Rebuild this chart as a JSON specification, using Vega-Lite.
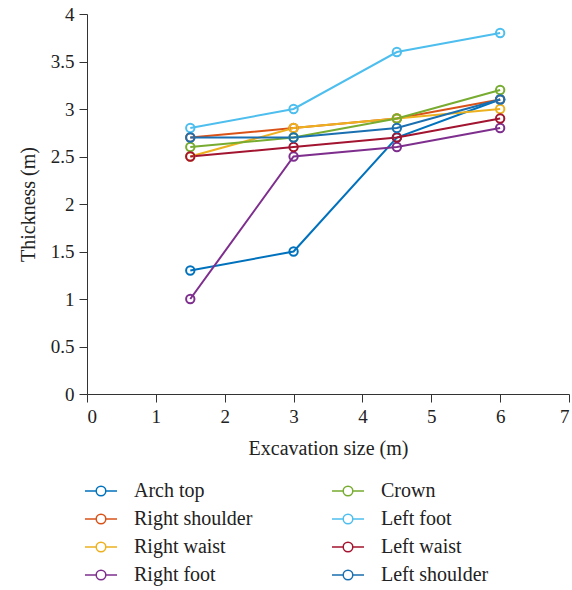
{
  "$schema": "https://vega.github.io/schema/vega-lite/v6.json",
  "autosize": {"type": "none"},
  "width": 482,
  "height": 380,
  "padding": {"left": 87, "top": 14, "right": 3, "bottom": 196},
  "background": "white",
  "config": {
    "view": {"stroke": null},
    "font": "Liberation Serif",
    "style": {
      "guide-label": {"font": "Liberation Serif", "fontSize": 19, "fill": "#222222"},
      "guide-title": {"font": "Liberation Serif", "fontSize": 20, "fontWeight": "normal", "fill": "#222222"}
    },
    "axisX": {"labelFont": "Liberation Serif", "labelFontSize": 19},
    "axisY": {"labelFont": "Liberation Serif", "labelFontSize": 19},
    "axis": {
      "grid": false,
      "domainColor": "#333333",
      "tickColor": "#333333",
      "labelColor": "#222222",
      "titleColor": "#222222",
      "titleFont": "Liberation Serif",
      "titleFontSize": 20,
      "titleFontWeight": "normal",
      "tickSize": 8
    },
    "legend": {"labelFont": "Liberation Serif"}
  },
  "data": {
    "values": [
      {"x": 1.5, "y": 1.3, "s": "Arch top"},
      {"x": 3, "y": 1.5, "s": "Arch top"},
      {"x": 4.5, "y": 2.7, "s": "Arch top"},
      {"x": 6, "y": 3.1, "s": "Arch top"},
      {"x": 1.5, "y": 2.7, "s": "Right shoulder"},
      {"x": 3, "y": 2.8, "s": "Right shoulder"},
      {"x": 4.5, "y": 2.9, "s": "Right shoulder"},
      {"x": 6, "y": 3.1, "s": "Right shoulder"},
      {"x": 1.5, "y": 2.5, "s": "Right waist"},
      {"x": 3, "y": 2.8, "s": "Right waist"},
      {"x": 4.5, "y": 2.9, "s": "Right waist"},
      {"x": 6, "y": 3.0, "s": "Right waist"},
      {"x": 1.5, "y": 1.0, "s": "Right foot"},
      {"x": 3, "y": 2.5, "s": "Right foot"},
      {"x": 4.5, "y": 2.6, "s": "Right foot"},
      {"x": 6, "y": 2.8, "s": "Right foot"},
      {"x": 1.5, "y": 2.6, "s": "Crown"},
      {"x": 3, "y": 2.7, "s": "Crown"},
      {"x": 4.5, "y": 2.9, "s": "Crown"},
      {"x": 6, "y": 3.2, "s": "Crown"},
      {"x": 1.5, "y": 2.8, "s": "Left foot"},
      {"x": 3, "y": 3.0, "s": "Left foot"},
      {"x": 4.5, "y": 3.6, "s": "Left foot"},
      {"x": 6, "y": 3.8, "s": "Left foot"},
      {"x": 1.5, "y": 2.5, "s": "Left waist"},
      {"x": 3, "y": 2.6, "s": "Left waist"},
      {"x": 4.5, "y": 2.7, "s": "Left waist"},
      {"x": 6, "y": 2.9, "s": "Left waist"},
      {"x": 1.5, "y": 2.7, "s": "Left shoulder"},
      {"x": 3, "y": 2.7, "s": "Left shoulder"},
      {"x": 4.5, "y": 2.8, "s": "Left shoulder"},
      {"x": 6, "y": 3.1, "s": "Left shoulder"}
    ]
  },
  "layer": [
    {
      "mark": {"type": "line", "strokeWidth": 2},
      "encoding": {
        "x": {
          "field": "x", "type": "quantitative",
          "scale": {"domain": [0, 7], "nice": false},
          "axis": {"values": [0, 1, 2, 3, 4, 5, 6, 7], "format": ".1~f", "title": "Excavation size (m)", "titlePadding": 12, "labelPadding": 5, "labelFont": "Liberation Serif", "labelFontSize": 19}
        },
        "y": {
          "field": "y", "type": "quantitative",
          "scale": {"domain": [0, 4], "nice": false},
          "axis": {"values": [0, 0.5, 1, 1.5, 2, 2.5, 3, 3.5, 4], "format": ".1~f", "title": "Thickness (m)", "titlePadding": 12, "labelPadding": 5, "labelFont": "Liberation Serif", "labelFontSize": 19}
        },
        "color": {
          "field": "s", "type": "nominal",
          "scale": {
            "domain": ["Arch top", "Right shoulder", "Right waist", "Right foot", "Crown", "Left foot", "Left waist", "Left shoulder"],
            "range": ["#0072BD", "#D95319", "#EDB120", "#7E2F8E", "#77AC30", "#4DBEEE", "#A2142F", "#1a6fb0"]
          },
          "legend": {
            "orient": "none",
            "legendX": -3,
            "legendY": 460,
            "columns": 2,
            "title": null,
            "symbolType": "M-1,0L-0.3,0M0.3,0L1,0M-0.3,0A0.3,0.3 0 1,0 0.3,0A0.3,0.3 0 1,0 -0.3,0",
            "symbolSize": 1024,
            "symbolStrokeWidth": 1.5,
            "symbolFillColor": "transparent",
            "labelFont": "Liberation Serif",
            "labelFontSize": 20,
            "labelColor": "#222222",
            "labelOffset": 16,
            "rowPadding": 1,
            "columnPadding": 76,
            "labelLimit": 300
          }
        }
      }
    },
    {
      "mark": {"type": "point", "filled": false, "size": 70, "strokeWidth": 2, "opacity": 1},
      "encoding": {
        "x": {"field": "x", "type": "quantitative"},
        "y": {"field": "y", "type": "quantitative"},
        "color": {"field": "s", "type": "nominal"}
      }
    }
  ]
}
